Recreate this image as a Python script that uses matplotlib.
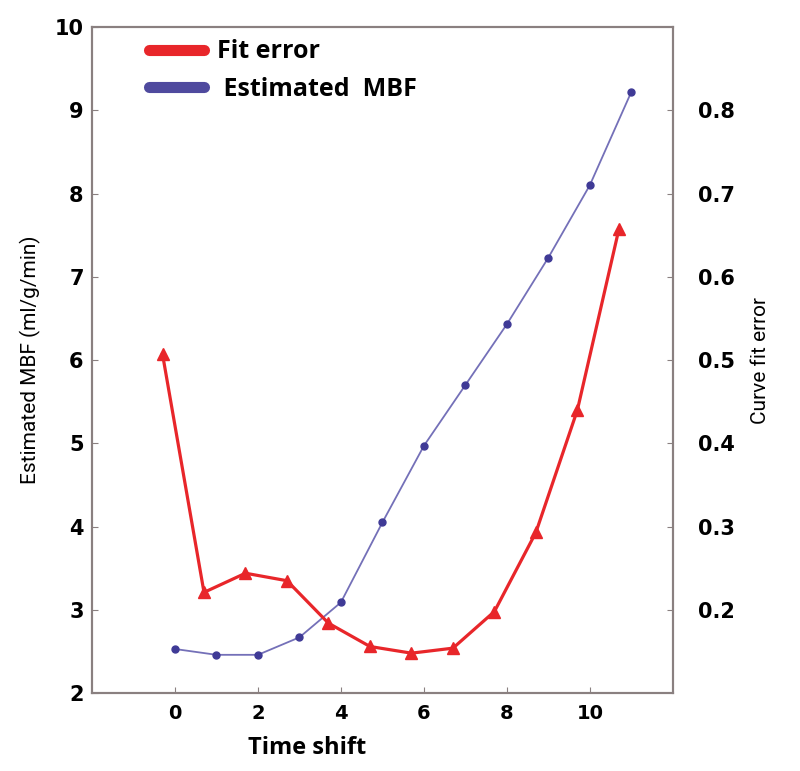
import numpy as np
import matplotlib
matplotlib.use('Agg')
import matplotlib.pyplot as plt
from matplotlib.lines import Line2D

# data
shift_mbf = [0, 1, 2, 3, 4, 5, 6, 7, 8, 9, 10, 11]
mbf = [2.53, 2.46, 2.46, 2.67, 3.09, 4.05, 4.97, 5.70, 6.43, 7.23, 8.10, 9.22]

shift_err = [-0.3, 0.7, 1.7, 2.7, 3.7, 4.7, 5.7, 6.7, 7.7, 8.7, 9.7, 10.7]
fit_err = [0.507, 0.221, 0.244, 0.235, 0.184, 0.156, 0.148, 0.154, 0.198, 0.293, 0.440, 0.657]

left_ticks = [2, 3, 4, 5, 6, 7, 8, 9, 10]
right_ticks = [0.2, 0.3, 0.4, 0.5, 0.6, 0.7, 0.8]
x_ticks = [0, 2, 4, 6, 8, 10]

red = '#e8262a'
frame = '#8a8080'
tick_font = {'family': 'DejaVu Sans', 'weight': 'heavy', 'size': 15}
narrow = ['Liberation Sans Narrow', 'Roboto', 'DejaVu Sans']

fig = plt.figure(figsize=(8, 7.71), dpi=100)
ax = fig.add_axes([0.115, 0.101, 0.726, 0.864])
ax2 = ax.twinx()

ax.plot(shift_mbf, mbf, '-', color='#7470b8', lw=1.3, zorder=3)
ax.plot(shift_mbf, mbf, 'o', color='#3f3a96', ms=5, zorder=4)
ax2.plot(shift_err, fit_err, '-^', color=red, lw=2.3, ms=8, zorder=3)

ax.set_xlim(-2, 12)
ax.set_ylim(2, 10)
ax2.set_ylim(0.1, 0.9)

ax.set_xticks(x_ticks)
ax.set_yticks(left_ticks)
ax2.set_yticks(right_ticks)
ax.set_xticklabels([str(t) for t in x_ticks], fontdict={**tick_font, 'size': 14})
ax.set_yticklabels([str(t) for t in left_ticks], fontdict=tick_font)
ax2.set_yticklabels([f'{t:.1f}' for t in right_ticks], fontdict=tick_font)

for a in (ax, ax2):
    for s in a.spines.values():
        s.set_color(frame)
        s.set_linewidth(1.5)
ax.tick_params(axis='both', direction='in', length=4, color=frame, pad=6)
ax.tick_params(axis='x', pad=8)
ax2.tick_params(axis='y', direction='in', length=4, color=frame, pad=18)

ax.text(0.37, -0.065, 'Time shift', transform=ax.transAxes, ha='center', va='top',
        fontsize=17, fontweight='bold', family='Open Sans')
ax.set_ylabel('Estimated MBF (ml/g/min)', fontsize=15, family=narrow, labelpad=10)
ax2.set_ylabel('Curve fit error', fontsize=15, family=narrow, rotation=90, labelpad=12)

handles = [Line2D([0], [0], color=red, lw=8, solid_capstyle='round'),
           Line2D([0], [0], color='#4f4a9e', lw=8, solid_capstyle='round')]
leg = ax.legend(handles, ['Fit error', ' Estimated  MBF'], loc='upper left',
                bbox_to_anchor=(0.06, 1.015), frameon=False, handlelength=2.2,
                handletextpad=0.5, labelspacing=0.5,
                prop={'family': 'Open Sans', 'weight': 'bold', 'size': 18})

fig.savefig('out.png', dpi=100)
